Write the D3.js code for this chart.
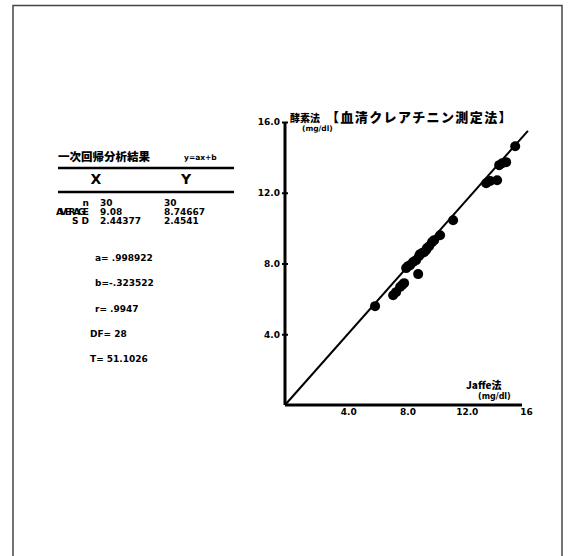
<!DOCTYPE html>
<meta charset="utf-8">
<style>
body { margin: 0; background: #fff; }
svg { display: block; background: #fff; }
text { font-family: "DejaVu Sans", "Noto Sans CJK JP", sans-serif; font-weight: bold; fill: #000; }
.jp { font-family: "Noto Sans CJK JP", sans-serif; font-weight: 900; }
.axis path, .axis line { stroke: #000; }
</style>
<body>
<div id="chart"></div>
<script src="https://cdnjs.cloudflare.com/ajax/libs/d3/7.8.5/d3.min.js"></script>
<script>
// measured values (Jaffe vs enzyme method), mg/dl
var xVals = [6.08, 7.30, 7.50, 7.91, 8.04, 8.99, 8.18, 8.45, 8.65, 8.85,
             9.05, 9.26, 9.39, 9.59, 9.73, 9.93, 10.07, 10.47, 11.35, 13.58,
             13.85, 14.32, 14.46, 14.66, 14.93, 15.54, 8.31, 9.12, 9.53, 7.77];
var yVals = [5.59, 6.21, 6.38, 6.78, 6.89, 7.40, 7.74, 7.91, 8.08, 8.19,
             8.42, 8.59, 8.64, 8.87, 8.98, 9.21, 9.32, 9.60, 10.45, 12.54,
             12.66, 12.71, 13.56, 13.67, 13.73, 14.63, 7.85, 8.53, 8.76, 6.67];
var yTicks = [4, 8, 12, 16];
var xTicks = [4, 8, 12, 16];
var yTickLabels = ["4.0", "8.0", "12.0", "16.0"];
var xTickLabels = ["4.0", "8.0", "12.0", "16"];
// fitted line end points as drawn
var lineX = [0, 16.4];
var lineY = [0, 15.5];

var statRows = ["n", "AVERAGE", "S D"];
var statX = ["30", "9.08", "2.44377"];
var statY = ["30", "8.74667", "2.4541"];
var regLines = ["a= .998922", "b=-.323522", "r= .9947", "DF= 28", "T= 51.1026"];

var W = 575, H = 556;
var svg = d3.select("#chart").append("svg").attr("width", W).attr("height", H);

// outer frame
svg.append("path")
  .attr("d", "M13,560 L13,5.5 L562,5.5 L562,560")
  .attr("fill", "none").attr("stroke", "#444").attr("stroke-width", 1.5);

var x = d3.scaleLinear().domain([0, 16]).range([285, 522]);
var y = d3.scaleLinear().domain([0, 16]).range([405, 122]);

// axes
var yAxis = svg.append("g").attr("class", "axis").attr("transform", "translate(285,0)")
  .call(d3.axisLeft(y).tickValues(yTicks).tickSize(3).tickFormat(function(d, i) { return yTickLabels[i]; }));
yAxis.select(".domain").attr("stroke-width", 3).attr("d", "M0," + y(16) + "V" + y(0));
yAxis.selectAll(".tick line").attr("stroke-width", 2).attr("x2", 3).attr("x1", -3);
yAxis.selectAll(".tick text").attr("x", -5).style("font-size", "9px").style("font-family", "DejaVu Sans");

var xAxis = svg.append("g").attr("class", "axis").attr("transform", "translate(0,405)")
  .call(d3.axisBottom(x).tickValues(xTicks).tickSize(0).tickFormat(function(d, i) { return xTickLabels[i]; }));
xAxis.select(".domain").attr("stroke-width", 3).attr("d", "M" + x(0) + ",0H" + x(16));
xAxis.selectAll(".tick text").attr("y", 4).attr("dx", 4).style("font-size", "9px").style("font-family", "DejaVu Sans");

// regression line
svg.append("line")
  .attr("x1", x(lineX[0])).attr("y1", y(lineY[0]))
  .attr("x2", x(lineX[1])).attr("y2", y(lineY[1]))
  .attr("stroke", "#000").attr("stroke-width", 2);

// points
svg.append("g").selectAll("circle")
  .data(xVals)
  .enter().append("circle")
  .attr("cx", function(d) { return x(d); })
  .attr("cy", function(d, i) { return y(yVals[i]); })
  .attr("r", 5)
  .attr("fill", "#000");

// axis titles
svg.append("text").attr("class", "jp").attr("x", 290).attr("y", 122).style("font-size", "10px").text("酵素法");
svg.append("text").attr("x", 302).attr("y", 131).style("font-size", "7.5px").text("(mg/dl)");
svg.append("text").attr("class", "jp").attr("x", 326).attr("y", 122).style("font-size", "13px")
  .style("letter-spacing", "1.4px").text("【血清クレアチニン測定法】");
svg.append("text").attr("class", "jp").attr("x", 466).attr("y", 389).style("font-size", "10px").text("Jaffe法");
svg.append("text").attr("x", 478).attr("y", 399).style("font-size", "8px").text("(mg/dl)");

// left summary table
var t = svg.append("g");
t.append("text").attr("class", "jp").attr("x", 58).attr("y", 161).style("font-size", "11.5px").text("一次回帰分析結果");
t.append("text").attr("x", 184).attr("y", 160).style("font-size", "7.5px").text("y=ax+b");
t.append("line").attr("x1", 58).attr("x2", 234).attr("y1", 168).attr("y2", 168).attr("stroke", "#000").attr("stroke-width", 2.5);
t.append("text").attr("x", 96).attr("y", 184).attr("text-anchor", "middle").style("font-size", "14px").text("X");
t.append("text").attr("x", 186).attr("y", 184).attr("text-anchor", "middle").style("font-size", "14px").text("Y");
t.append("line").attr("x1", 58).attr("x2", 234).attr("y1", 192).attr("y2", 192).attr("stroke", "#000").attr("stroke-width", 2.5);

var rowY = d3.scaleBand().domain(statRows).range([198, 225]);
var rows = t.selectAll(".srow").data(statRows).enter().append("g")
  .attr("transform", function(d) { return "translate(0," + (rowY(d) + rowY.bandwidth() - 1) + ")"; });
rows.append("text").attr("x", 89).attr("text-anchor", "end").style("font-size", "9px")
  .attr("textLength", function(d) { return d === "AVERAGE" ? 33 : null; })
  .text(function(d) { return d; });
rows.append("text").attr("x", 100).style("font-size", "9px").text(function(d, i) { return statX[i]; });
rows.append("text").attr("x", 164).style("font-size", "9px").text(function(d, i) { return statY[i]; });

var regY = d3.scalePoint().domain(regLines).range([261, 362]);
t.selectAll(".reg").data(regLines).enter().append("text")
  .attr("x", function(d, i) { return i < 3 ? 95 : 90; })
  .attr("y", function(d) { return regY(d); })
  .style("font-size", "9px")
  .text(function(d) { return d; });
</script>
